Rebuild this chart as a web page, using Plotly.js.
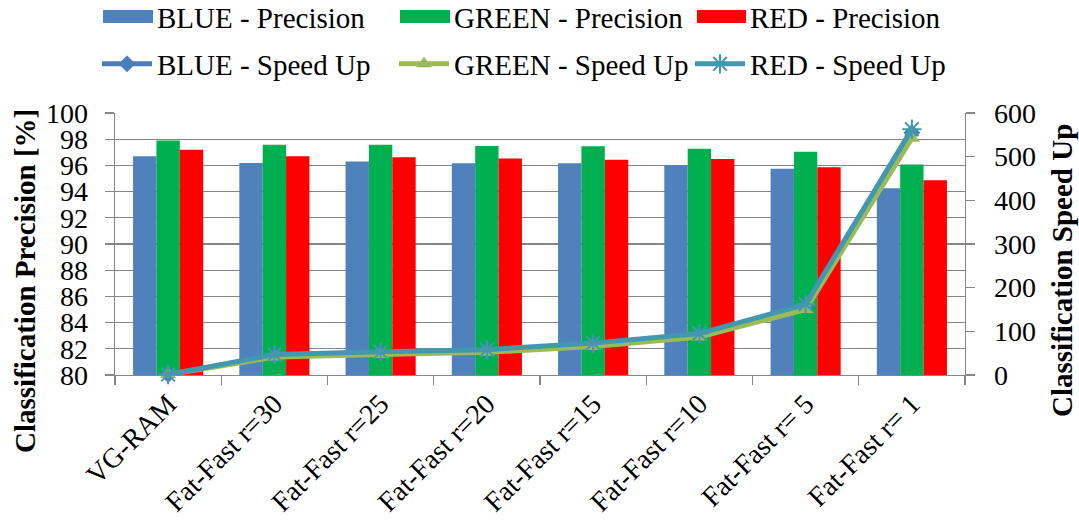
<!DOCTYPE html>
<html>
<head>
<meta charset="utf-8">
<script src="https://cdn.plot.ly/plotly-3.0.1.min.js"></script>
<style>html,body{margin:0;padding:0;background:#fff;}#chart{width:1079px;height:524px;}</style>
</head>
<body>
<div id="chart"></div>
<script>
const categories = ["VG-RAM", "Fat-Fast r=30", "Fat-Fast r=25", "Fat-Fast r=20", "Fat-Fast r=15", "Fat-Fast r=10", "Fat-Fast r= 5", "Fat-Fast r= 1"];
const bluePrecision  = [96.69, 96.19, 96.29, 96.16, 96.16, 96.01, 95.75, 94.26];
const greenPrecision = [97.91, 97.58, 97.58, 97.48, 97.46, 97.28, 97.05, 96.06];
const redPrecision   = [97.20, 96.69, 96.62, 96.52, 96.44, 96.49, 95.86, 94.87];
const blueSpeedUp  = [1, 45, 51, 56, 70, 92, 158, 555];
const greenSpeedUp = [1, 41, 47, 52, 65, 87, 150, 542];
const redSpeedUp   = [1, 47, 53, 58, 73, 95, 162, 563];
const leftTitle = 'Classification Precision [%]';
const rightTitle = 'Classification Speed Up';

const FONT = "'Liberation Serif', 'Times New Roman', Times, serif";
const W = 1079, H = 524, ML = 115, MR = 114, MT = 113, MB = 149;
const PW = W - ML - MR, PH = H - MT - MB;
const colors = {blueBar:'#4F81BD', greenBar:'#00B050', redBar:'#FF0000', blueLine:'#4A7EBB', greenLine:'#9BBB59', redLine:'#4198AF'};

const traces = [
  {type:'bar', name:'BLUE - Precision', x:categories, y:bluePrecision, marker:{color:colors.blueBar}, legend:'legend'},
  {type:'bar', name:'GREEN - Precision', x:categories, y:greenPrecision, marker:{color:colors.greenBar}, legend:'legend2'},
  {type:'bar', name:'RED - Precision', x:categories, y:redPrecision, marker:{color:colors.redBar}, legend:'legend3'},
  {type:'scatter', mode:'lines+markers', name:'BLUE - Speed Up', x:categories, y:blueSpeedUp, yaxis:'y2', legend:'legend4', cliponaxis:false,
   line:{color:colors.blueLine, width:5}, marker:{symbol:'diamond', size:13, color:colors.blueLine}},
  {type:'scatter', mode:'lines+markers', name:'GREEN - Speed Up', x:categories, y:greenSpeedUp, yaxis:'y2', legend:'legend5', cliponaxis:false,
   line:{color:colors.greenLine, width:5}, marker:{symbol:'triangle-up', size:14, color:colors.greenLine}},
  {type:'scatter', mode:'lines+markers', name:'RED - Speed Up', x:categories, y:redSpeedUp, yaxis:'y2', legend:'legend6', cliponaxis:false,
   line:{color:colors.redLine, width:5}, marker:{symbol:'asterisk-open', size:16, color:colors.redLine, line:{color:colors.redLine, width:2}}}
];

function leg(pxX, pxY) {
  return {orientation:'h', xref:'container', yref:'container', x:pxX / W, xanchor:'left', y:1 - pxY / H, yanchor:'middle',
    itemwidth:50, font:{family:FONT, size:29, color:'#000'}, bgcolor:'rgba(0,0,0,0)', borderwidth:0};
}
// legend swatch rectangles for the bar entries (pixel positions converted to paper coordinates)
function swatch(x0, x1, y0, y1, color) {
  return {type:'rect', xref:'paper', yref:'paper', layer:'above',
    x0:(x0 - ML) / PW, x1:(x1 - ML) / PW, y0:(H - MB - y1) / PH, y1:(H - MB - y0) / PH,
    fillcolor:color, line:{width:0}};
}
function vtitle(text, px, py) {
  return {text:text, xref:'paper', yref:'paper', x:(px - ML) / PW, y:(H - MB - py) / PH, xanchor:'center', yanchor:'middle',
    textangle:-90, showarrow:false, font:{family:FONT, size:29, weight:700, color:'#000'}};
}

const layout = {
  width:W, height:H,
  margin:{l:ML, r:MR, t:MT, b:MB, pad:0},
  paper_bgcolor:'#fff', plot_bgcolor:'#fff',
  font:{family:FONT, size:28, color:'#000'},
  barmode:'group', bargap:0.34, bargroupgap:0,
  showlegend:true,
  xaxis:{
    type:'category', tickangle:-45, tickson:'boundaries', ticks:'outside', ticklen:9, tickcolor:'#868686', tickwidth:1.3,
    showline:true, linecolor:'#868686', linewidth:1.3, showgrid:false,
    tickfont:{family:FONT, size:28}
  },
  yaxis:{
    range:[80,100], dtick:2, ticks:'outside', ticklen:9, tickcolor:'#868686', tickwidth:1.3,
    showline:true, linecolor:'#868686', linewidth:1.3, showgrid:true, gridcolor:'#868686', gridwidth:1.3,
    zeroline:false, ticklabelstandoff:11, tickfont:{family:FONT, size:28}
  },
  yaxis2:{
    overlaying:'y', side:'right', range:[0,600], dtick:100, ticks:'outside', ticklen:9, tickcolor:'#868686', tickwidth:1.3,
    showline:true, linecolor:'#868686', linewidth:1.3, showgrid:false, zeroline:false, ticklabelstandoff:13,
    tickfont:{family:FONT, size:28}
  },
  legend: leg(97, 17),
  legend2: leg(394, 17),
  legend3: leg(690, 17),
  legend4: leg(97, 64),
  legend5: leg(394, 64),
  legend6: leg(690, 64),
  shapes:[
    swatch(103, 153, 10, 23, colors.blueBar),
    swatch(400, 450, 10, 23, colors.greenBar),
    swatch(697, 746, 10, 23, colors.redBar)
  ],
  annotations:[
    vtitle(leftTitle, 25, 281),
    vtitle(rightTitle, 1062, 271)
  ]
};

Plotly.newPlot('chart', traces, layout, {staticPlot:true, displayModeBar:false});
</script>
</body>
</html>
